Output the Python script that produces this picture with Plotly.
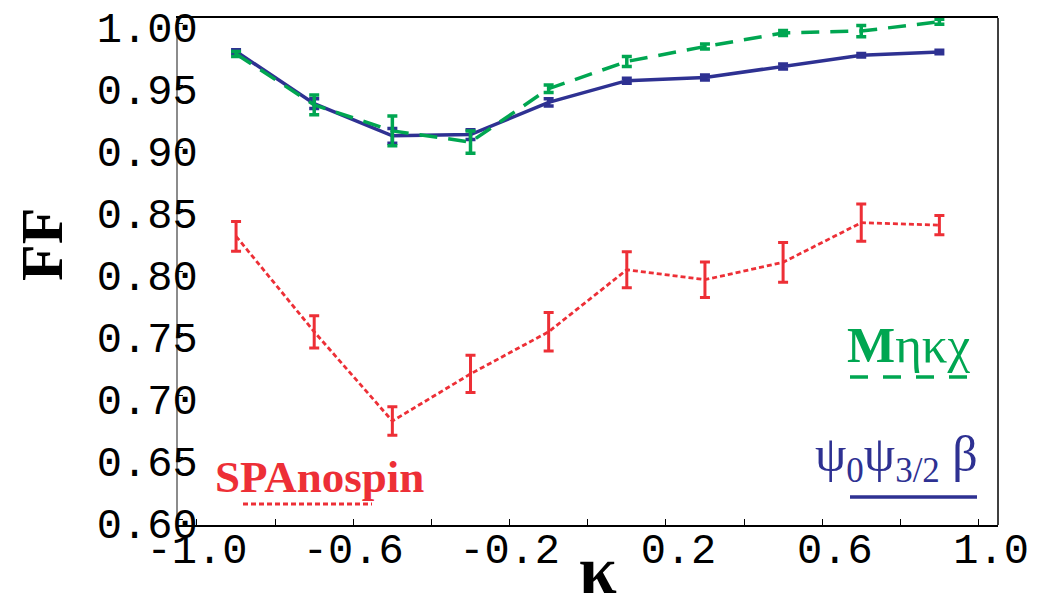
import plotly.graph_objects as go

# kappa grid shared by all three runs
kappa = [-0.9, -0.7, -0.5, -0.3, -0.1, 0.1, 0.3, 0.5, 0.7, 0.9]

# fitting factor for each template family, with 1-sigma errors
ff_psi = [0.977, 0.935, 0.909, 0.910, 0.936, 0.9535, 0.956, 0.965, 0.974, 0.9766]
err_psi = [0.0015, 0.004, 0.006, 0.004, 0.003, 0.002, 0.002, 0.002, 0.0015, 0.0015]

ff_mnkx = [0.975, 0.934, 0.913, 0.904, 0.947, 0.969, 0.981, 0.992, 0.9935, 1.001]
err_mnkx = [0.002, 0.008, 0.012, 0.009, 0.003, 0.004, 0.002, 0.002, 0.0045, 0.002]

ff_spa = [0.828, 0.751, 0.679, 0.717, 0.751, 0.801, 0.793, 0.807, 0.839, 0.837]
err_spa = [0.012, 0.013, 0.0115, 0.015, 0.0155, 0.0145, 0.0143, 0.016, 0.015, 0.0077]

# axis ticks
x_ticks = [-1.0, -0.6, -0.2, 0.2, 0.6, 1.0]
x_labels = ["-1.0", "-0.6", "-0.2", "\u00a00.2", "\u00a00.6", "\u00a01.0"]
x_minor = [-0.8, -0.4, 0.0, 0.4, 0.8]
y_ticks = [0.60, 0.65, 0.70, 0.75, 0.80, 0.85, 0.90, 0.95, 1.00]
y_labels = ["0.60", "0.65", "0.70", "0.75", "0.80", "0.85", "0.90", "0.95", "1.00"]

BLUE = "#2e3192"
GREEN = "#00a651"
RED = "#ed2f36"

W, H = 1048, 610
L, R, T, B = 178, 50, 18, 85
PW, PH = W - L - R, H - T - B


def px(xp):
    return (xp - L) / PW


def py(yp):
    return (H - B - yp) / PH


fig = go.Figure()

fig.add_trace(go.Scatter(
    x=kappa, y=ff_psi, mode="lines",
    line=dict(color=BLUE, width=3.5),
    error_y=dict(type="data", array=err_psi, color=BLUE, thickness=3.5, width=5),
    showlegend=False,
))
fig.add_trace(go.Scatter(
    x=kappa, y=ff_mnkx, mode="lines",
    line=dict(color=GREEN, width=3.5, dash="18px,11px"),
    error_y=dict(type="data", array=err_mnkx, color=GREEN, thickness=3.5, width=5),
    showlegend=False,
))
fig.add_trace(go.Scatter(
    x=kappa, y=ff_spa, mode="lines",
    line=dict(color=RED, width=2.8, dash="5px,3px"),
    error_y=dict(type="data", array=err_spa, color=RED, thickness=3, width=5),
    showlegend=False,
))

tick_font = dict(family="Liberation Mono", size=42, color="black")

fig.update_xaxes(
    range=[-1.0486, 1.05], tickmode="array", tickvals=x_ticks, ticktext=x_labels,
    ticks="inside", ticklen=6, tickwidth=1.2, tickcolor="black",
    minor=dict(tickvals=x_minor, ticks="inside", ticklen=6, tickwidth=1.2, tickcolor="black"),
    showline=True, linecolor="black", linewidth=1.5, mirror=True,
    showgrid=False, zeroline=False, tickfont=tick_font, ticklabeloverflow="allow",
    ticklabelstandoff=-14, automargin=False,
)
fig.update_yaxes(
    range=[0.59516, 1.00403], tickmode="array", tickvals=y_ticks, ticktext=y_labels,
    ticks="inside", ticklen=5, tickwidth=1.2, tickcolor="black",
    showline=True, linecolor="#8c8c8c", linewidth=1.8, mirror=False,
    showgrid=False, zeroline=False, tickfont=tick_font, ticklabelstandoff=-30,
    ticklabelshift=4, ticklabeloverflow="allow", automargin=False,
)

serif = "Liberation Serif"
annotations = [
    dict(text="<b>SPAnospin</b>", x=px(213), y=py(477), xanchor="left", yanchor="middle",
         font=dict(family=serif, size=45, color=RED)),
    dict(text="<b>M</b>ηκχ", x=px(845), y=py(345), xanchor="left", yanchor="middle",
         font=dict(family=serif, size=51, color=GREEN)),
    dict(text="ψ<sub>0</sub>ψ<sub>3/2</sub> β", x=px(813), y=py(458), xanchor="left", yanchor="middle",
         font=dict(family=serif, size=50, color=BLUE)),
    dict(text="<b>FF</b>", x=px(42), y=py(245), xanchor="center", yanchor="middle",
         textangle=-90, font=dict(family=serif, size=60, color="black")),
    dict(text="<b>κ</b>", x=px(598), y=py(610), xanchor="center", yanchor="bottom",
         font=dict(family=serif, size=68, color="black")),
]
for a in annotations:
    a.update(xref="paper", yref="paper", showarrow=False)

shapes = [
    # right frame edge
    dict(type="line", xref="paper", yref="paper", x0=1, x1=1, y0=0, y1=1,
         line=dict(color="black", width=1.5)),
    # legend underlines
    dict(type="line", xref="paper", yref="paper", x0=px(243), x1=px(372), y0=py(504), y1=py(504),
         line=dict(color=RED, width=3, dash="5px,3px")),
    dict(type="line", xref="paper", yref="paper", x0=px(850), x1=px(968), y0=py(377), y1=py(377),
         line=dict(color=GREEN, width=3.5, dash="18px,15px")),
    dict(type="line", xref="paper", yref="paper", x0=px(850), x1=px(977), y0=py(497), y1=py(497),
         line=dict(color=BLUE, width=3.5)),
]

fig.update_layout(
    width=W, height=H,
    margin=dict(l=L, r=R, t=T, b=B, pad=0, autoexpand=False),
    paper_bgcolor="white", plot_bgcolor="white",
    annotations=annotations, shapes=shapes,
)

fig.write_html("out.html")
